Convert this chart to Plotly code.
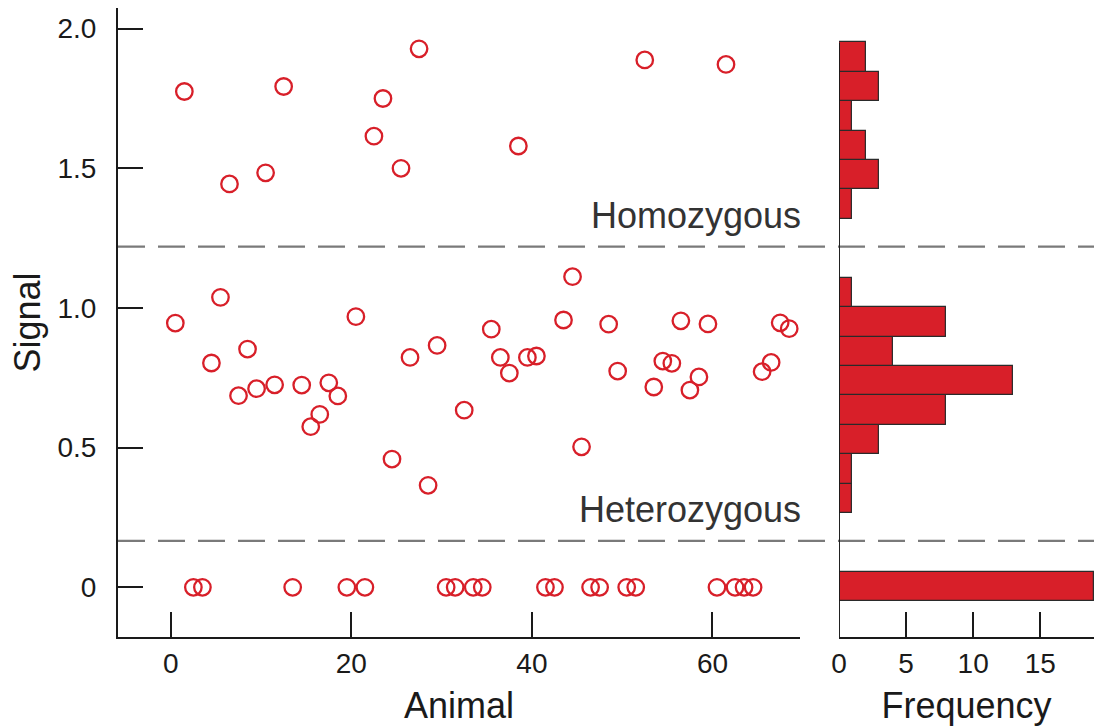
import plotly.graph_objects as go

# ---- data ----
signal = [0.946, 1.775, 0.0, 0.0, 0.803, 1.038, 1.444, 0.686, 0.853, 0.711,
          1.484, 0.725, 1.793, 0.0, 0.724, 0.575, 0.619, 0.732, 0.685, 0.0,
          0.969, 0.0, 1.615, 1.750, 0.459, 1.500, 0.823, 1.928, 0.365, 0.866,
          0.0, 0.0, 0.634, 0.0, 0.0, 0.924, 0.823, 0.767, 1.580, 0.823,
          0.828, 0.0, 0.0, 0.957, 1.112, 0.503, 0.0, 0.0, 0.942, 0.774,
          0.0, 0.0, 1.888, 0.717, 0.810, 0.802, 0.954, 0.706, 0.753, 0.943,
          0.0, 1.872, 0.0, 0.0, 0.0, 0.772, 0.805, 0.947, 0.926]
animal = [i + 0.5 for i in range(len(signal))]

hist_start = -0.05
hist_width = 0.1053
hist_counts = [19, 0, 0, 1, 1, 3, 8, 13, 4, 8, 1, 0, 0, 1, 3, 2, 1, 3, 2]
hist_centers = [hist_start + (k + 0.5) * hist_width for k in range(len(hist_counts))]

thresholds = [1.22, 0.166]
threshold_labels = ["Homozygous", "Heterozygous"]

x_ticks = [0, 20, 40, 60]
y_ticks = [0, 0.5, 1.0, 1.5, 2.0]
y_ticktext = ["0", "0.5", "1.0", "1.5", "2.0"]
f_ticks = [0, 5, 10, 15]

RED = "#d81f29"
FONT = "Liberation Sans, Arial, sans-serif"
YR = [-0.178, 2.074]

fig = go.Figure()
fig.add_trace(go.Scatter(
    x=animal, y=signal, mode="markers", xaxis="x", yaxis="y",
    marker=dict(symbol="circle-open", size=16.5, color=RED, line=dict(width=2.3, color=RED)),
    showlegend=False, cliponaxis=False))
fig.add_trace(go.Bar(
    y=hist_centers, x=hist_counts, orientation="h", width=hist_width,
    xaxis="x2", yaxis="y",
    marker=dict(color=RED, line=dict(color="#2a2a2a", width=1.2)),
    showlegend=False))

axis_common = dict(showline=True, linecolor="#1a1a1a", linewidth=2,
                   ticks="inside", ticklen=25, tickwidth=2, tickcolor="#1a1a1a",
                   showgrid=False, zeroline=False,
                   tickfont=dict(size=28, color="#1a1a1a", family=FONT))

shapes = []
for t in thresholds:
    shapes.append(dict(type="line", xref="paper", yref="y", x0=0, x1=1, y0=t, y1=t,
                       line=dict(color="#7a7a7a", width=2.2, dash="27px,13px"), layer="below"))
# histogram vertical axis line up to top of bins
shapes.append(dict(type="line", xref="x2", yref="y", x0=0, x1=0, y0=YR[0],
                   y1=hist_start + len(hist_counts) * hist_width,
                   line=dict(color="#1a1a1a", width=2)))

annotations = []
for t, lab in zip(thresholds, threshold_labels):
    annotations.append(dict(text=lab, xref="x domain", yref="y", x=1.005, y=t,
                            xanchor="right", yanchor="bottom", showarrow=False,
                            yshift=9, font=dict(size=36, color="#333333", family=FONT)))

fig.update_layout(
    width=1094, height=727,
    margin=dict(l=118, r=0, t=8, b=90),
    paper_bgcolor="white", plot_bgcolor="white",
    font=dict(family=FONT, color="#1a1a1a"),
    bargap=0,
    xaxis=dict(domain=[0, 0.6988], range=[-5.85, 69.7], tickvals=x_ticks,
               title=dict(text="Animal", font=dict(size=36, family=FONT), standoff=15),
               anchor="y", **axis_common),
    xaxis2=dict(domain=[0.7387, 1], range=[0, 19], tickvals=f_ticks,
                title=dict(text="Frequency", font=dict(size=36, family=FONT), standoff=15),
                anchor="y", **axis_common),
    yaxis=dict(range=YR, tickvals=y_ticks, ticktext=y_ticktext, anchor="x",
               title=dict(text="Signal", font=dict(size=36, family=FONT), standoff=6),
               ticklabelstandoff=14, **axis_common),
    shapes=shapes, annotations=annotations,
)

fig.write_html("out.html")
